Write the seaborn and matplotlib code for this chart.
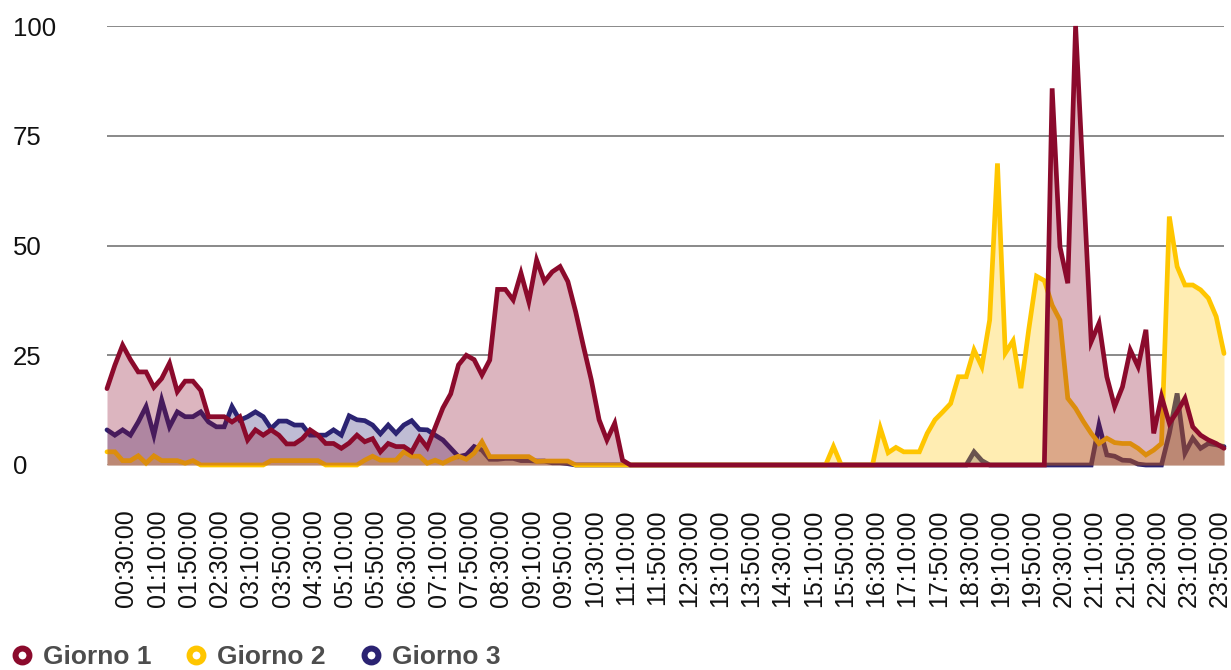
import numpy as np
import pandas as pd
import seaborn as sns
import matplotlib.pyplot as plt
import matplotlib.transforms as mtransforms
from matplotlib.lines import Line2D

# 10-minute slots over one day, 00:00:00 .. 23:50:00
slots = [f"{h:02d}:{m:02d}:00" for h in range(24) for m in range(0, 60, 10)]

tick_labels = [
    "00:30:00", "01:10:00", "01:50:00", "02:30:00", "03:10:00", "03:50:00",
    "04:30:00", "05:10:00", "05:50:00", "06:30:00", "07:10:00", "07:50:00",
    "08:30:00", "09:10:00", "09:50:00", "10:30:00", "11:10:00", "11:50:00",
    "12:30:00", "13:10:00", "13:50:00", "14:30:00", "15:10:00", "15:50:00",
    "16:30:00", "17:10:00", "17:50:00", "18:30:00", "19:10:00", "19:50:00",
    "20:30:00", "21:10:00", "21:50:00", "22:30:00", "23:10:00", "23:50:00",
]

giorno_1 = (
    [17.4, 22.7, 27.3, 24, 21.2, 21.2, 17.7, 19.7, 23.2, 16.7, 19.1, 19.1,
     17, 11, 11, 11, 9.8, 11, 5.7, 8, 6.8, 8, 6.8, 4.8,
     4.8, 6, 8, 6.8, 4.9, 4.9, 3.8, 5, 6.8, 5.3, 6, 3,
     4.9, 4.2, 4.2, 3, 6.3, 4, 8.5, 13, 16.2, 22.8, 25, 24,
     20.5, 23.9, 40, 40, 37.6, 43.7, 37.2, 46.7, 41.8, 44, 45.2, 41.8,
     34.9, 27, 19.4, 10.3, 5.7, 9.5, 1.1]
    + [0] * 54
    + [85.8, 49.7, 41.4, 100, 64, 28.1, 32.3, 20.1, 13.3, 17.8, 26.2,
       22.4, 30.8, 7.2, 15.6, 9.5, 12.1, 15.2, 8.7, 6.8, 5.7, 4.9, 3.8]
)

giorno_2 = (
    [3, 3, 1, 1, 2.1, 0.4, 2.1, 1, 1, 1, 0.4, 1]
    + [0] * 9
    + [1, 1, 1, 1, 1, 1, 1, 0, 0, 0, 0, 0,
       1.1, 2, 1.1, 1.1, 1.1, 3, 2, 2, 0.4, 1.1, 0.4, 1.3,
       2, 1.3, 2.7, 5.3, 1.9, 1.9, 1.9, 1.9, 1.9, 1.9, 0.8, 0.9,
       0.9, 0.9, 0.9]
    + [0] * 33
    + [4.2, 0, 0, 0, 0, 0, 8.4, 2.8, 4, 3, 3, 3,
       7.2, 10.3, 12.1, 14, 20.1, 20.1, 26.2, 22.4, 33, 68.7, 25.5, 28.3,
       17.5, 30.8, 43, 42, 36.4, 33, 15.2, 12.9, 9.9, 7.2, 4.9, 6.1,
       5.1, 4.9, 4.9, 3.8, 2.3, 3.4, 4.9, 56.6, 45.2, 41, 41, 39.9,
       38, 33.8, 25.4]
)

giorno_3 = (
    [8, 6.8, 8, 6.8, 9.8, 13.3, 6.8, 14.8, 8.7, 12.1, 11, 11,
     12.1, 9.8, 8.7, 8.7, 13.3, 10.2, 11, 12.1, 11, 8.3, 10, 10,
     9.1, 9.1, 6.8, 6.8, 6.8, 8, 6.8, 11.2, 10.3, 10.1, 9.1, 7.1,
     9.1, 7.2, 9.1, 10.1, 8.1, 8, 6.8, 5.7, 3.8, 1.9, 2.3, 4.2,
     3.4, 1.3, 1.3, 1.5, 1.5, 1, 1, 0.9, 0.9, 0.5, 0.5, 0.3]
    + [0] * 51
    + [3, 1]
    + [0] * 14
    + [9.1, 2.3, 2, 1.1, 1, 0.2, 0, 0, 0, 7.2, 16.3, 2.7,
       6.1, 3.8, 4.9, 4.6, 4.2]
)

colors = {"Giorno 1": "#8b0a2c", "Giorno 2": "#ffc600", "Giorno 3": "#2b2372"}

df = pd.DataFrame({
    "slot": np.arange(len(slots)),
    "time": slots,
    "Giorno 1": giorno_1,
    "Giorno 2": giorno_2,
    "Giorno 3": giorno_3,
})

sns.set_theme(style="white")
plt.rcParams["font.family"] = ["Liberation Sans", "DejaVu Sans"]

fig = plt.figure(figsize=(12.31, 6.70), dpi=100)
ax = fig.add_axes([107 / 1231, 205 / 670, 1117 / 1231, 439 / 670])

# white envelope hides the gridlines under the areas, like the original
envelope = df[["Giorno 1", "Giorno 2", "Giorno 3"]].max(axis=1)
ax.fill_between(df["slot"], 0, envelope, color="white", lw=0, zorder=1)

# blue at the back, red on top
for z, name in [(2, "Giorno 3"), (4, "Giorno 2"), (6, "Giorno 1")]:
    ax.fill_between(df["slot"], 0, df[name], color=colors[name], alpha=0.3, lw=0, zorder=z)
    sns.lineplot(data=df, x="slot", y=name, color=colors[name], lw=3.4, ax=ax,
                 zorder=z + 1, clip_on=False, solid_joinstyle="miter")

ax.set_xlim(0, len(slots) - 1)
ax.set_ylim(0, 100)
ax.set_xlabel("")
ax.set_ylabel("")

tick_pos = [slots.index(t) for t in tick_labels]
ax.set_xticks(tick_pos)
ax.set_xticklabels(tick_labels, rotation=90)
ax.set_yticks([0, 25, 50, 75, 100])

ax.grid(axis="y", color="#808080", lw=1.3)
ax.set_axisbelow(True)
sns.despine(ax=ax, left=True, bottom=True)

ax.tick_params(axis="x", length=0, pad=32, labelsize=18, labelcolor="#111111")
ax.tick_params(axis="y", length=0, pad=68, labelsize=18.5, labelcolor="#111111")
for lab in ax.get_yticklabels():
    lab.set_horizontalalignment("left")
# the rotated labels sit a little left of their slot in the original
shift = mtransforms.ScaledTranslation(-4 / 100, 0, fig.dpi_scale_trans)
for lab in ax.get_xticklabels():
    lab.set_transform(lab.get_transform() + shift)

handles = [
    Line2D([], [], ls="", marker="o", markersize=10, markerfacecolor="white",
           markeredgecolor=colors[n], markeredgewidth=4.3)
    for n in ["Giorno 1", "Giorno 2", "Giorno 3"]
]
fig.legend(handles, ["Giorno 1", "Giorno 2", "Giorno 3"], loc="center left",
           bbox_to_anchor=(11 / 1231, 13 / 670), ncol=3, frameon=False,
           prop={"family": ["Liberation Sans Narrow", "Liberation Sans"],
                 "weight": "bold", "size": 19},
           labelcolor="#4d4d4d", handlelength=0.8, handletextpad=0.4,
           columnspacing=1.3, borderpad=0, borderaxespad=0)

fig.savefig("out.png", dpi=100)
